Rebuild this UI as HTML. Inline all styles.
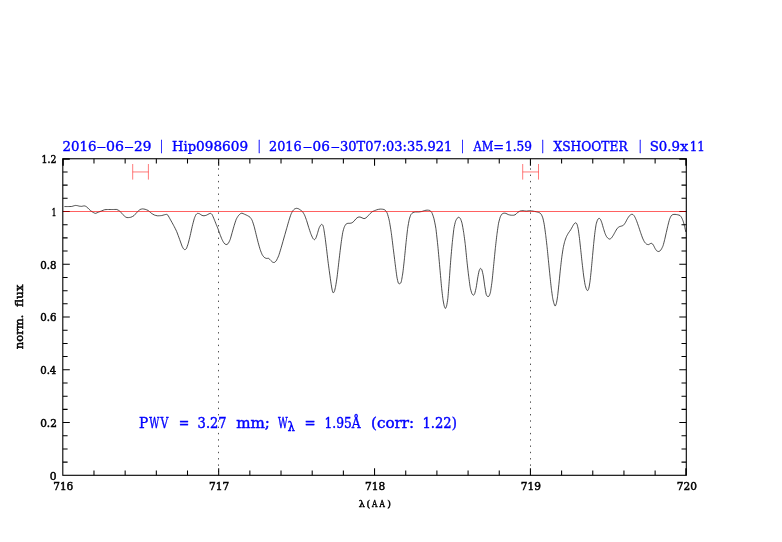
<!DOCTYPE html>
<html lang="en">
<head>
<meta charset="utf-8">
<title>Hip098609 telluric fit</title>
<style>
html,body{margin:0;padding:0;background:#fff;}
body{width:782px;height:542px;overflow:hidden;}
svg{display:block;}
text{opacity:0.999;font-family:"DejaVu Serif","Liberation Serif",serif;}
.b{fill:#0000ff;stroke:#0000ff;stroke-width:0.4px;font-size:13.5px;}
.k{fill:#000;stroke:#000;stroke-width:0.5px;font-size:11.0px;}
</style>
</head>
<body>
<svg width="782" height="542" viewBox="0 0 782 542">
<rect width="782" height="542" fill="#fff"/>
<g style="will-change:transform">
<line x1="218.50" y1="158.75" x2="218.50" y2="475.30" stroke="#333" stroke-width="0.85" stroke-dasharray="1.4 4.9" stroke-dashoffset="-3.25"/>
<line x1="530.50" y1="158.75" x2="530.50" y2="475.30" stroke="#333" stroke-width="0.85" stroke-dasharray="1.4 4.9" stroke-dashoffset="-3.25"/>
<path d="M132.70 164V179.6M148.40 164V179.6M132.70 171.95H148.40" stroke="#ff0000" stroke-opacity="0.55" stroke-width="0.95" fill="none"/>
<path d="M522.70 164V179.6M538.50 164V179.6M522.70 171.95H538.50" stroke="#ff0000" stroke-opacity="0.55" stroke-width="0.95" fill="none"/>
<path d="M64.43 206.56 C64.76 206.56 67.43 206.57 68.09 206.56 C68.75 206.55 71.22 206.52 71.74 206.46 C72.26 206.40 73.44 205.94 73.77 205.85 C74.10 205.76 75.06 205.47 75.39 205.45 C75.72 205.43 77.07 205.59 77.42 205.65 C77.77 205.71 78.85 206.10 79.24 206.16 C79.63 206.22 81.29 206.38 81.68 206.36 C82.07 206.34 83.21 206.00 83.50 205.96 C83.79 205.92 84.66 205.90 84.92 205.96 C85.18 206.02 86.06 206.48 86.34 206.67 C86.62 206.86 87.60 207.74 87.97 208.09 C88.34 208.44 89.90 210.11 90.40 210.52 C90.90 210.93 92.98 212.29 93.44 212.55 C93.90 212.81 95.01 213.40 95.47 213.36 C95.93 213.32 97.96 212.36 98.51 212.14 C99.06 211.92 101.01 211.15 101.56 210.93 C102.11 210.71 104.05 209.84 104.60 209.71 C105.15 209.58 106.90 209.53 107.64 209.51 C108.38 209.49 111.89 209.51 112.72 209.51 C113.55 209.51 116.12 209.36 116.77 209.51 C117.42 209.66 119.27 210.67 119.82 211.13 C120.37 211.59 122.31 214.03 122.86 214.58 C123.41 215.13 125.44 216.93 125.90 217.21 C126.36 217.49 127.47 217.62 127.93 217.62 C128.39 217.62 130.42 217.39 130.97 217.21 C131.52 217.03 133.47 216.05 134.02 215.59 C134.57 215.13 136.51 212.69 137.06 212.14 C137.61 211.59 139.60 209.80 140.10 209.51 C140.60 209.22 142.08 208.92 142.54 208.90 C143.00 208.88 144.65 209.15 145.17 209.30 C145.69 209.45 147.67 210.17 148.22 210.52 C148.77 210.87 150.71 212.75 151.26 213.16 C151.81 213.57 153.75 214.74 154.30 214.98 C154.85 215.22 156.69 215.73 157.34 215.79 C157.99 215.85 160.75 215.68 161.40 215.59 C162.05 215.50 163.98 214.89 164.44 214.78 C164.90 214.67 166.16 214.33 166.47 214.37 C166.78 214.41 167.52 214.69 167.89 215.19 C168.26 215.69 170.01 218.93 170.53 219.85 C171.05 220.77 173.02 224.28 173.57 225.33 C174.12 226.38 176.07 230.12 176.62 231.41 C177.17 232.70 179.16 238.18 179.66 239.53 C180.16 240.88 181.72 245.35 182.09 246.22 C182.46 247.09 183.46 248.75 183.72 249.06 C183.98 249.37 184.69 249.71 184.93 249.67 C185.17 249.63 186.05 249.21 186.35 248.66 C186.65 248.11 187.83 244.79 188.18 243.59 C188.53 242.39 189.84 237.04 190.21 235.47 C190.58 233.90 191.87 227.87 192.24 226.34 C192.61 224.81 193.94 219.68 194.27 218.63 C194.60 217.58 195.60 215.26 195.89 214.78 C196.18 214.30 197.18 213.45 197.51 213.36 C197.84 213.27 199.13 213.59 199.54 213.77 C199.95 213.95 201.56 215.21 201.97 215.39 C202.38 215.57 203.59 215.81 204.00 215.79 C204.41 215.77 205.98 215.37 206.44 215.19 C206.90 215.01 208.68 213.94 209.07 213.77 C209.46 213.60 210.42 213.29 210.70 213.36 C210.98 213.43 211.81 214.05 212.12 214.58 C212.43 215.11 213.78 218.36 214.15 219.24 C214.52 220.12 215.82 223.44 216.17 224.31 C216.52 225.18 217.65 227.86 218.00 228.78 C218.35 229.70 219.66 233.48 220.03 234.46 C220.40 235.44 221.69 238.74 222.06 239.53 C222.43 240.32 223.72 242.72 224.09 243.18 C224.46 243.64 225.74 244.56 226.11 244.60 C226.48 244.64 227.77 244.05 228.14 243.59 C228.51 243.13 229.80 240.54 230.17 239.53 C230.54 238.52 231.83 233.72 232.20 232.43 C232.57 231.14 233.86 226.53 234.23 225.33 C234.60 224.13 235.89 220.11 236.26 219.24 C236.63 218.37 237.92 216.29 238.29 215.79 C238.66 215.29 239.98 214.01 240.31 213.77 C240.64 213.53 241.57 213.12 241.94 213.16 C242.31 213.20 243.87 213.95 244.37 214.17 C244.87 214.39 246.89 215.31 247.41 215.59 C247.93 215.87 249.63 216.79 250.05 217.21 C250.47 217.63 251.71 219.43 252.08 220.26 C252.45 221.09 253.74 225.05 254.11 226.34 C254.48 227.63 255.77 232.98 256.14 234.46 C256.51 235.94 257.80 241.19 258.17 242.57 C258.54 243.95 259.83 248.56 260.20 249.67 C260.57 250.78 261.85 254.04 262.22 254.74 C262.59 255.44 263.88 257.05 264.25 257.38 C264.62 257.71 265.87 258.31 266.28 258.40 C266.69 258.49 268.31 258.22 268.72 258.40 C269.13 258.58 270.37 260.07 270.74 260.42 C271.11 260.77 272.44 262.07 272.77 262.25 C273.10 262.43 274.09 262.58 274.40 262.45 C274.71 262.32 275.83 261.44 276.22 260.83 C276.61 260.22 278.24 256.87 278.66 255.76 C279.08 254.65 280.50 249.95 280.89 248.66 C281.28 247.37 282.55 242.85 282.92 241.56 C283.29 240.27 284.57 235.75 284.94 234.46 C285.31 233.17 286.60 228.65 286.97 227.36 C287.34 226.07 288.63 221.46 289.00 220.26 C289.37 219.06 290.68 215.04 291.03 214.17 C291.38 213.30 292.53 211.20 292.86 210.72 C293.19 210.24 294.33 209.12 294.68 208.90 C295.03 208.68 296.34 208.29 296.71 208.29 C297.08 208.29 298.39 208.73 298.74 208.90 C299.09 209.07 300.21 209.85 300.56 210.11 C300.91 210.37 302.22 211.28 302.59 211.74 C302.96 212.20 304.25 214.38 304.62 215.19 C304.99 216.00 306.28 219.55 306.65 220.66 C307.02 221.77 308.31 226.20 308.68 227.36 C309.05 228.52 310.34 232.46 310.71 233.44 C311.08 234.42 312.41 237.54 312.74 238.11 C313.07 238.68 314.08 239.71 314.36 239.73 C314.64 239.75 315.50 238.86 315.78 238.31 C316.06 237.76 317.11 234.57 317.40 233.65 C317.69 232.73 318.72 228.94 319.02 228.17 C319.32 227.40 320.39 225.48 320.65 225.13 C320.91 224.78 321.64 224.26 321.86 224.31 C322.08 224.36 322.90 225.27 323.08 225.73 C323.26 226.19 323.71 228.32 323.89 229.39 C324.07 230.46 324.87 235.75 325.11 237.50 C325.35 239.25 326.27 246.54 326.53 248.66 C326.79 250.78 327.67 258.62 327.95 260.83 C328.23 263.04 329.29 270.97 329.57 273.00 C329.85 275.03 330.75 281.57 330.99 283.14 C331.23 284.71 332.01 289.35 332.21 290.24 C332.41 291.13 333.02 292.79 333.22 292.88 C333.42 292.97 334.22 291.87 334.44 291.26 C334.66 290.65 335.42 287.48 335.66 286.19 C335.90 284.90 336.82 279.00 337.08 277.06 C337.34 275.12 338.24 267.10 338.50 264.89 C338.76 262.68 339.66 254.84 339.92 252.72 C340.18 250.60 341.08 243.40 341.34 241.56 C341.60 239.72 342.50 233.72 342.76 232.43 C343.02 231.14 343.90 228.10 344.18 227.36 C344.46 226.62 345.47 224.68 345.80 224.31 C346.13 223.94 347.46 223.39 347.83 223.30 C348.20 223.21 349.49 223.34 349.86 223.30 C350.23 223.26 351.52 223.07 351.89 222.89 C352.26 222.71 353.55 221.64 353.92 221.27 C354.29 220.90 355.58 219.21 355.95 218.84 C356.32 218.47 357.60 217.38 357.97 217.21 C358.34 217.04 359.63 216.95 360.00 217.01 C360.37 217.07 361.66 217.67 362.03 217.82 C362.40 217.97 363.69 218.63 364.06 218.63 C364.43 218.63 365.72 218.08 366.09 217.82 C366.46 217.56 367.75 216.18 368.12 215.79 C368.49 215.40 369.78 213.93 370.15 213.56 C370.52 213.19 371.82 211.98 372.17 211.74 C372.52 211.50 373.56 211.11 374.00 210.93 C374.44 210.75 376.49 209.88 377.04 209.71 C377.59 209.54 379.54 209.14 380.09 209.10 C380.64 209.06 382.67 209.21 383.13 209.30 C383.59 209.39 384.79 209.76 385.16 210.11 C385.53 210.46 386.82 212.24 387.19 213.16 C387.56 214.08 388.84 218.51 389.21 220.26 C389.58 222.01 390.87 229.85 391.24 232.43 C391.61 235.01 392.90 245.71 393.27 248.66 C393.64 251.61 394.97 262.31 395.30 264.89 C395.63 267.47 396.64 275.40 396.92 277.06 C397.20 278.72 398.08 282.53 398.34 283.14 C398.60 283.75 399.50 283.84 399.76 283.75 C400.02 283.66 400.90 283.11 401.18 282.13 C401.46 281.15 402.51 275.12 402.81 273.00 C403.11 270.88 404.14 261.57 404.43 258.80 C404.72 256.03 405.76 245.34 406.05 242.57 C406.34 239.80 407.37 230.49 407.67 228.37 C407.97 226.25 409.00 220.49 409.30 219.24 C409.60 217.99 410.59 215.19 410.92 214.58 C411.25 213.97 412.53 212.79 412.95 212.55 C413.37 212.31 415.07 212.00 415.59 211.94 C416.11 211.88 418.08 211.98 418.63 211.94 C419.18 211.90 421.12 211.66 421.67 211.53 C422.22 211.40 424.22 210.65 424.72 210.52 C425.22 210.39 426.69 210.11 427.15 210.11 C427.61 210.11 429.37 210.30 429.79 210.52 C430.21 210.74 431.45 211.85 431.82 212.55 C432.19 213.25 433.47 216.79 433.84 218.23 C434.21 219.67 435.50 225.79 435.87 228.37 C436.24 230.95 437.53 242.94 437.90 246.63 C438.27 250.32 439.60 265.25 439.93 268.94 C440.26 272.63 441.27 284.43 441.55 287.20 C441.83 289.97 442.73 297.67 442.97 299.37 C443.21 301.07 443.97 305.03 444.19 305.86 C444.41 306.69 445.19 308.50 445.41 308.50 C445.63 308.50 446.40 306.78 446.62 305.86 C446.84 304.94 447.62 300.43 447.84 298.36 C448.06 296.29 448.80 286.55 449.06 283.14 C449.32 279.73 450.39 264.52 450.68 260.83 C450.97 257.14 452.00 245.52 452.30 242.57 C452.60 239.62 453.63 230.31 453.93 228.37 C454.23 226.43 455.26 222.19 455.55 221.27 C455.84 220.35 456.87 218.60 457.17 218.23 C457.47 217.86 458.50 217.17 458.80 217.21 C459.10 217.25 460.13 218.08 460.42 218.63 C460.71 219.18 461.75 222.05 462.04 223.30 C462.33 224.55 463.36 230.49 463.66 232.43 C463.96 234.37 464.99 242.02 465.29 244.60 C465.59 247.18 466.62 258.06 466.91 260.83 C467.20 263.60 468.23 272.63 468.53 275.03 C468.83 277.43 469.86 285.54 470.16 287.20 C470.46 288.86 471.49 292.55 471.78 293.29 C472.07 294.03 473.12 295.32 473.40 295.32 C473.68 295.32 474.56 294.03 474.82 293.29 C475.08 292.55 475.98 288.58 476.24 287.20 C476.50 285.82 477.40 279.55 477.66 278.07 C477.92 276.59 478.82 271.85 479.08 270.97 C479.34 270.09 480.24 268.43 480.50 268.34 C480.76 268.25 481.66 269.26 481.92 269.96 C482.18 270.66 483.08 274.56 483.34 276.04 C483.60 277.52 484.50 284.53 484.76 286.19 C485.02 287.85 485.92 293.36 486.18 294.30 C486.44 295.24 487.34 296.36 487.60 296.53 C487.86 296.70 488.76 296.52 489.02 296.13 C489.28 295.74 490.16 293.63 490.44 292.27 C490.72 290.91 491.77 283.61 492.07 281.12 C492.37 278.63 493.40 267.84 493.69 264.89 C493.98 261.94 495.02 251.43 495.31 248.66 C495.60 245.89 496.63 236.77 496.93 234.46 C497.23 232.15 498.26 224.87 498.56 223.30 C498.86 221.73 499.89 218.04 500.18 217.21 C500.47 216.38 501.47 214.54 501.80 214.17 C502.13 213.80 503.46 213.23 503.83 213.16 C504.20 213.09 505.45 213.23 505.86 213.36 C506.27 213.49 507.83 214.41 508.29 214.58 C508.75 214.75 510.41 215.13 510.93 215.19 C511.45 215.25 513.51 215.28 513.97 215.19 C514.43 215.10 515.63 214.45 516.00 214.17 C516.37 213.89 517.62 212.43 518.03 212.14 C518.44 211.85 520.01 211.06 520.47 210.93 C520.93 210.80 522.58 210.70 523.10 210.72 C523.62 210.74 525.52 211.13 526.15 211.13 C526.78 211.13 529.37 210.72 530.00 210.72 C530.63 210.72 532.49 211.04 533.04 211.13 C533.59 211.22 535.54 211.61 536.09 211.74 C536.64 211.87 538.67 212.33 539.13 212.55 C539.59 212.77 540.83 213.69 541.16 214.17 C541.49 214.65 542.50 216.90 542.78 217.82 C543.06 218.74 543.94 222.80 544.20 224.31 C544.46 225.82 545.36 232.43 545.62 234.46 C545.88 236.49 546.78 244.23 547.04 246.63 C547.30 249.03 548.20 258.25 548.46 260.83 C548.72 263.41 549.62 272.54 549.88 275.03 C550.14 277.52 551.04 286.10 551.30 288.22 C551.56 290.34 552.48 296.98 552.72 298.36 C552.96 299.74 553.72 302.73 553.94 303.43 C554.16 304.13 554.93 306.07 555.15 306.07 C555.37 306.07 556.15 304.32 556.37 303.43 C556.59 302.54 557.35 298.17 557.59 296.33 C557.83 294.49 558.75 285.63 559.01 283.14 C559.27 280.65 560.17 271.34 560.43 268.94 C560.69 266.54 561.59 258.71 561.85 256.77 C562.11 254.83 563.01 249.02 563.27 247.64 C563.53 246.26 564.40 242.57 564.69 241.56 C564.98 240.55 566.16 237.28 566.51 236.49 C566.86 235.70 568.17 233.42 568.54 232.83 C568.91 232.24 570.20 230.58 570.57 229.99 C570.94 229.40 572.27 226.91 572.60 226.34 C572.93 225.77 573.92 224.04 574.22 223.71 C574.52 223.38 575.59 222.64 575.85 222.69 C576.11 222.74 576.84 223.70 577.06 224.31 C577.28 224.92 578.06 228.10 578.28 229.39 C578.50 230.68 579.28 236.67 579.50 238.51 C579.72 240.35 580.48 247.46 580.72 249.67 C580.96 251.88 581.88 260.55 582.14 262.86 C582.40 265.17 583.30 273.09 583.56 275.03 C583.82 276.97 584.72 282.87 584.98 284.16 C585.24 285.45 586.16 288.64 586.40 289.23 C586.64 289.82 587.39 290.74 587.61 290.65 C587.83 290.56 588.61 289.09 588.83 288.22 C589.05 287.35 589.83 282.78 590.05 281.12 C590.27 279.46 591.04 272.17 591.26 269.96 C591.48 267.75 592.26 259.17 592.48 256.77 C592.70 254.37 593.48 245.80 593.70 243.59 C593.92 241.38 594.70 234.18 594.92 232.43 C595.14 230.68 595.89 225.45 596.13 224.31 C596.37 223.17 597.29 220.40 597.55 219.85 C597.81 219.30 598.71 218.29 598.97 218.23 C599.23 218.17 600.13 218.83 600.39 219.24 C600.65 219.65 601.53 221.86 601.81 222.69 C602.09 223.52 603.14 227.39 603.44 228.37 C603.74 229.35 604.77 232.67 605.06 233.44 C605.35 234.21 606.39 236.43 606.68 236.89 C606.97 237.35 608.02 238.31 608.30 238.51 C608.58 238.71 609.44 239.16 609.72 239.12 C610.00 239.08 611.04 238.44 611.35 238.11 C611.66 237.78 612.82 236.04 613.17 235.47 C613.52 234.90 614.83 232.47 615.20 231.82 C615.57 231.17 616.86 228.83 617.23 228.37 C617.60 227.91 618.89 226.95 619.26 226.75 C619.63 226.55 620.92 226.27 621.29 226.14 C621.66 226.01 622.95 225.64 623.32 225.33 C623.69 225.02 624.97 223.28 625.34 222.69 C625.71 222.10 627.00 219.47 627.37 218.84 C627.74 218.21 629.03 216.20 629.40 215.79 C629.77 215.38 631.10 214.48 631.43 214.37 C631.76 214.26 632.75 214.38 633.05 214.58 C633.35 214.78 634.37 216.06 634.68 216.61 C634.99 217.16 636.15 219.78 636.50 220.66 C636.85 221.54 638.16 225.27 638.53 226.34 C638.90 227.41 640.19 231.36 640.56 232.43 C640.93 233.50 642.22 237.22 642.59 238.11 C642.96 239.00 644.25 241.62 644.62 242.17 C644.99 242.72 646.27 243.98 646.64 244.20 C647.01 244.42 648.34 244.66 648.67 244.60 C649.00 244.54 650.00 243.70 650.30 243.59 C650.60 243.48 651.64 243.25 651.92 243.38 C652.20 243.51 653.06 244.57 653.34 245.01 C653.62 245.45 654.66 247.73 654.96 248.25 C655.26 248.77 656.29 250.39 656.59 250.69 C656.89 250.99 657.92 251.46 658.21 251.50 C658.50 251.54 659.54 251.31 659.83 251.09 C660.12 250.87 661.15 249.56 661.45 249.06 C661.75 248.56 662.78 246.49 663.08 245.62 C663.38 244.75 664.41 240.73 664.70 239.53 C664.99 238.33 666.02 233.72 666.32 232.43 C666.62 231.14 667.65 226.53 667.95 225.33 C668.25 224.13 669.28 220.11 669.57 219.24 C669.86 218.37 670.90 216.21 671.19 215.79 C671.48 215.37 672.46 214.71 672.81 214.58 C673.16 214.45 674.61 214.35 675.05 214.37 C675.49 214.39 677.22 214.67 677.68 214.78 C678.14 214.89 679.75 215.31 680.12 215.59 C680.49 215.87 681.46 217.30 681.74 217.82 C682.02 218.34 682.90 220.50 683.16 221.27 C683.42 222.04 684.34 225.36 684.58 226.34 C684.82 227.32 685.69 231.50 685.80 232.02" fill="none" stroke="#1a1a1a" stroke-width="0.78" stroke-linejoin="round"/>
<rect x="62.80" y="158.75" width="623.50" height="316.55" fill="none" stroke="#000" stroke-width="1.1"/>
<path d="M93.98 475.30v-4.80M93.98 158.75v4.80M125.15 475.30v-4.80M125.15 158.75v4.80M156.33 475.30v-4.80M156.33 158.75v4.80M187.50 475.30v-4.80M187.50 158.75v4.80M218.68 475.30v-7.00M218.68 158.75v7.00M249.85 475.30v-4.80M249.85 158.75v4.80M281.02 475.30v-4.80M281.02 158.75v4.80M312.20 475.30v-4.80M312.20 158.75v4.80M343.37 475.30v-4.80M343.37 158.75v4.80M374.55 475.30v-7.00M374.55 158.75v7.00M405.73 475.30v-4.80M405.73 158.75v4.80M436.90 475.30v-4.80M436.90 158.75v4.80M468.08 475.30v-4.80M468.08 158.75v4.80M499.25 475.30v-4.80M499.25 158.75v4.80M530.42 475.30v-7.00M530.42 158.75v7.00M561.60 475.30v-4.80M561.60 158.75v4.80M592.77 475.30v-4.80M592.77 158.75v4.80M623.95 475.30v-4.80M623.95 158.75v4.80M655.12 475.30v-4.80M655.12 158.75v4.80M62.80 462.11h4.80M686.30 462.11h-4.80M62.80 448.92h4.80M686.30 448.92h-4.80M62.80 435.73h4.80M686.30 435.73h-4.80M62.80 422.54h7.00M686.30 422.54h-7.00M62.80 409.35h4.80M686.30 409.35h-4.80M62.80 396.16h4.80M686.30 396.16h-4.80M62.80 382.97h4.80M686.30 382.97h-4.80M62.80 369.78h7.00M686.30 369.78h-7.00M62.80 356.59h4.80M686.30 356.59h-4.80M62.80 343.40h4.80M686.30 343.40h-4.80M62.80 330.21h4.80M686.30 330.21h-4.80M62.80 317.02h7.00M686.30 317.02h-7.00M62.80 303.84h4.80M686.30 303.84h-4.80M62.80 290.65h4.80M686.30 290.65h-4.80M62.80 277.46h4.80M686.30 277.46h-4.80M62.80 264.27h7.00M686.30 264.27h-7.00M62.80 251.08h4.80M686.30 251.08h-4.80M62.80 237.89h4.80M686.30 237.89h-4.80M62.80 224.70h4.80M686.30 224.70h-4.80M62.80 211.51h7.00M686.30 211.51h-7.00M62.80 198.32h4.80M686.30 198.32h-4.80M62.80 185.13h4.80M686.30 185.13h-4.80M62.80 171.94h4.80M686.30 171.94h-4.80" stroke="#000" stroke-width="1.05" fill="none"/>
<path d="M62.80 159.00h7.00M63.05 158.75v7.00M686.30 159.00h-7.00M686.05 158.75v7.00M686.05 475.30v-7" stroke="#000" stroke-width="1.5" fill="none"/>
<line x1="63.40" y1="211.50" x2="685.70" y2="211.50" stroke="#ff0000" stroke-opacity="0.62" stroke-width="1"/>
<text class="k" style="font-size:11.0px" y="479.65"><tspan x="49.75" y="479.65" textLength="6.80" lengthAdjust="spacingAndGlyphs">0</tspan></text>
<text class="k" style="font-size:11.0px" y="426.89"><tspan x="40.17" y="426.89" textLength="16.71" lengthAdjust="spacingAndGlyphs">0.2</tspan></text>
<text class="k" style="font-size:11.0px" y="374.13"><tspan x="40.19" y="374.13" textLength="16.15" lengthAdjust="spacingAndGlyphs">0.4</tspan></text>
<text class="k" style="font-size:11.0px" y="321.38"><tspan x="40.18" y="321.38" textLength="16.28" lengthAdjust="spacingAndGlyphs">0.6</tspan></text>
<text class="k" style="font-size:11.0px" y="268.62"><tspan x="40.18" y="268.62" textLength="16.34" lengthAdjust="spacingAndGlyphs">0.8</tspan></text>
<text class="k" style="font-size:11.0px" y="215.86"><tspan x="51.66" y="215.86" textLength="4.61" lengthAdjust="spacingAndGlyphs">1</tspan></text>
<text class="k" style="font-size:11.0px" y="163.00"><tspan x="41.51" y="163.00" textLength="14.86" lengthAdjust="spacingAndGlyphs">1.2</tspan></text>
<text class="k" style="font-size:11.0px" y="490.30"><tspan x="53.23" y="490.30" textLength="20.11" lengthAdjust="spacingAndGlyphs">716</tspan></text>
<text class="k" style="font-size:11.0px" y="490.30"><tspan x="209.10" y="490.30" textLength="20.23" lengthAdjust="spacingAndGlyphs">717</tspan></text>
<text class="k" style="font-size:11.0px" y="490.30"><tspan x="364.98" y="490.30" textLength="20.17" lengthAdjust="spacingAndGlyphs">718</tspan></text>
<text class="k" style="font-size:11.0px" y="490.30"><tspan x="520.85" y="490.30" textLength="20.17" lengthAdjust="spacingAndGlyphs">719</tspan></text>
<text class="k" style="font-size:11.0px" y="490.30"><tspan x="676.73" y="490.30" textLength="20.17" lengthAdjust="spacingAndGlyphs">720</tspan></text>
<text class="k" style="font-size:9.7px" y="506.90"><tspan x="358.66" y="506.90" textLength="6.14" lengthAdjust="spacingAndGlyphs">λ</tspan><tspan x="366.61" y="506.90" textLength="3.70" lengthAdjust="spacingAndGlyphs">(</tspan><tspan x="371.91" y="506.90" textLength="5.37" lengthAdjust="spacingAndGlyphs">A</tspan><tspan x="379.61" y="506.90" textLength="5.37" lengthAdjust="spacingAndGlyphs">A</tspan><tspan x="387.19" y="506.90" textLength="3.70" lengthAdjust="spacingAndGlyphs">)</tspan></text>
<text class="k" style="font-size:11.3px" y="0.00" transform="translate(23.0 349.5) rotate(-90)"><tspan x="0.35" y="0.00" textLength="34.47" lengthAdjust="spacingAndGlyphs">norm.</tspan> <tspan x="42.53" y="0.00" textLength="22.47" lengthAdjust="spacingAndGlyphs">flux</tspan></text>
<text class="b" style="font-size:13.5px" y="150.55"><tspan x="62.50" y="150.55" textLength="33.90" lengthAdjust="spacingAndGlyphs">2016</tspan><tspan x="95.69" y="150.55" textLength="11.24" lengthAdjust="spacingAndGlyphs" style="stroke-width:0px;">-</tspan><tspan x="105.98" y="150.55" textLength="17.96" lengthAdjust="spacingAndGlyphs">06</tspan><tspan x="123.50" y="150.55" textLength="11.11" lengthAdjust="spacingAndGlyphs" style="stroke-width:0px;">-</tspan><tspan x="134.08" y="150.55" textLength="17.41" lengthAdjust="spacingAndGlyphs">29</tspan> <tspan x="159.93" y="149.75" textLength="2.95" lengthAdjust="spacingAndGlyphs" style="stroke-width:0.3px;">|</tspan> <tspan x="172.08" y="150.55" textLength="23.97" lengthAdjust="spacingAndGlyphs">Hip</tspan><tspan x="196.12" y="150.55" textLength="51.97" lengthAdjust="spacingAndGlyphs">098609</tspan> <tspan x="257.63" y="149.75" textLength="2.95" lengthAdjust="spacingAndGlyphs" style="stroke-width:0.3px;">|</tspan> <tspan x="269.04" y="150.55" textLength="32.53" lengthAdjust="spacingAndGlyphs">2016</tspan><tspan x="301.90" y="150.55" textLength="11.11" lengthAdjust="spacingAndGlyphs" style="stroke-width:0px;">-</tspan><tspan x="312.52" y="150.55" textLength="17.30" lengthAdjust="spacingAndGlyphs">06</tspan><tspan x="330.07" y="150.55" textLength="10.57" lengthAdjust="spacingAndGlyphs" style="stroke-width:0px;">-</tspan><tspan x="340.03" y="150.55" textLength="112.22" lengthAdjust="spacingAndGlyphs">30T07:03:35.921</tspan> <tspan x="460.93" y="149.75" textLength="2.95" lengthAdjust="spacingAndGlyphs" style="stroke-width:0.3px;">|</tspan> <tspan x="473.49" y="150.55" textLength="19.87" lengthAdjust="spacingAndGlyphs">AM</tspan><tspan x="493.34" y="150.55" textLength="10.82" lengthAdjust="spacingAndGlyphs">=</tspan><tspan x="505.01" y="150.55" textLength="26.99" lengthAdjust="spacingAndGlyphs">1.59</tspan> <tspan x="541.33" y="149.75" textLength="2.95" lengthAdjust="spacingAndGlyphs" style="stroke-width:0.3px;">|</tspan> <tspan x="553.44" y="150.55" textLength="74.17" lengthAdjust="spacingAndGlyphs">XSHOOTER</tspan> <tspan x="638.63" y="149.75" textLength="2.95" lengthAdjust="spacingAndGlyphs" style="stroke-width:0.3px;">|</tspan> <tspan x="649.70" y="150.55" textLength="30.27" lengthAdjust="spacingAndGlyphs">S0.9</tspan><tspan x="680.22" y="150.55" textLength="8.04" lengthAdjust="spacingAndGlyphs">x</tspan><tspan x="689.64" y="150.55" textLength="15.12" lengthAdjust="spacingAndGlyphs">11</tspan></text>
<text class="b" style="font-size:13.9px" y="427.75"><tspan x="139.04" y="427.75" textLength="9.24" lengthAdjust="spacingAndGlyphs">P</tspan><tspan x="149.35" y="427.75" textLength="10.08" lengthAdjust="spacingAndGlyphs">W</tspan><tspan x="160.61" y="427.75" textLength="7.83" lengthAdjust="spacingAndGlyphs">V</tspan> <tspan x="178.78" y="427.75" textLength="10.55" lengthAdjust="spacingAndGlyphs">=</tspan> <tspan x="197.62" y="427.75" textLength="29.01" lengthAdjust="spacingAndGlyphs">3.27</tspan> <tspan x="236.17" y="427.75" textLength="33.82" lengthAdjust="spacingAndGlyphs">mm;</tspan> <tspan x="278.05" y="427.75" textLength="9.67" lengthAdjust="spacingAndGlyphs">W</tspan><tspan x="287.86" y="431.05" textLength="7.04" lengthAdjust="spacingAndGlyphs" style="font-size:12.5px;stroke-width:0.6px;">λ</tspan> <tspan x="304.41" y="427.75" textLength="11.08" lengthAdjust="spacingAndGlyphs">=</tspan> <tspan x="324.60" y="427.75" textLength="36.06" lengthAdjust="spacingAndGlyphs">1.95Å</tspan> <tspan x="371.03" y="427.75" textLength="43.13" lengthAdjust="spacingAndGlyphs">(corr:</tspan> <tspan x="422.39" y="427.75" textLength="34.42" lengthAdjust="spacingAndGlyphs">1.22)</tspan></text>
</g>
</svg>
</body>
</html>
